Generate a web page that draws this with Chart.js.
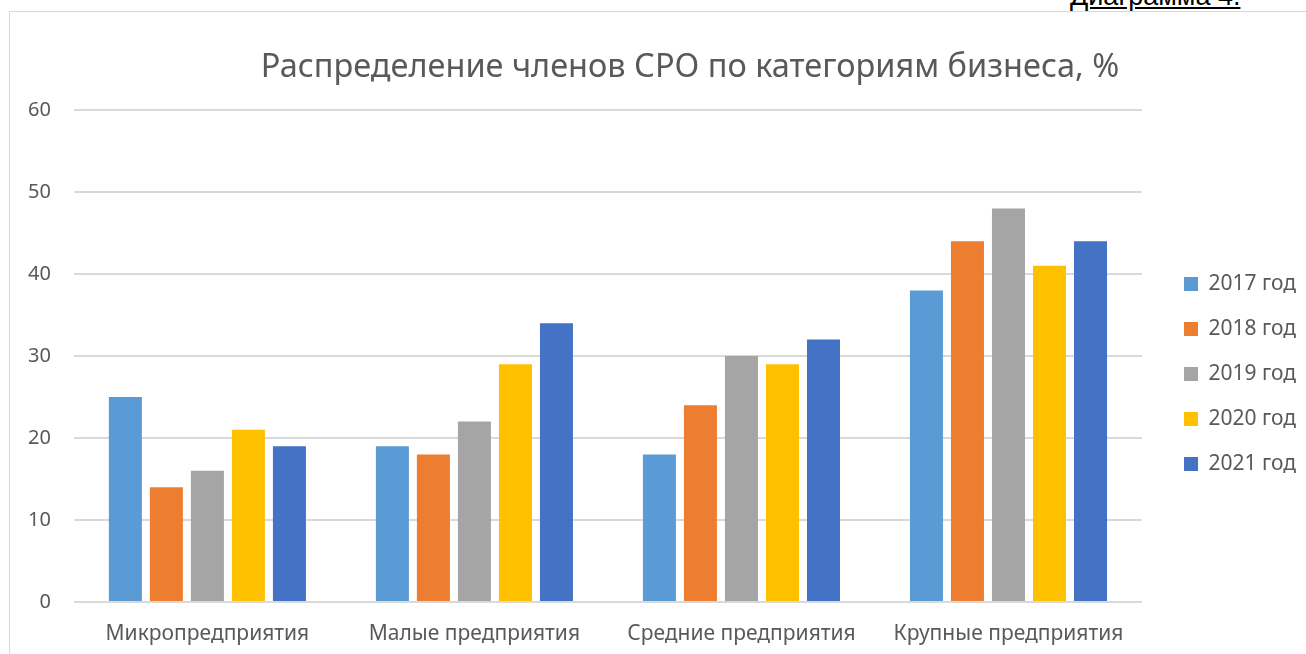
<!DOCTYPE html>
<html>
<head>
<meta charset="utf-8">
<script src="https://cdn.jsdelivr.net/npm/chart.js@4"></script>
<style>
  html, body { margin: 0; padding: 0; width: 1306px; height: 654px; overflow: hidden; background: #fff; }
  #frame { position: absolute; left: 9px; top: 11px; width: 1400px; height: 700px; border: 1px solid #d9d9d9; box-sizing: border-box; }
  #wrap { position: absolute; left: 0; top: 0; width: 1380px; height: 654px; }
  #caption { position: absolute; left: 1070px; top: -17px; font-family: "Liberation Sans", Arial, sans-serif; font-size: 27px; line-height: 27px; color: #000; text-decoration: underline; white-space: nowrap; }
</style>
</head>
<body>
<div id="frame"></div>
<div id="caption">Диаграмма 4.</div>
<div id="wrap"><canvas id="c" width="1380" height="654"></canvas></div>
<script>
const categories = ["Микропредприятия", "Малые предприятия", "Средние предприятия", "Крупные предприятия"];
const seriesNames = ["2017 год", "2018 год", "2019 год", "2020 год", "2021 год"];
const v2017 = [25, 19, 18, 38];
const v2018 = [14, 18, 24, 44];
const v2019 = [16, 22, 30, 48];
const v2020 = [21, 29, 29, 41];
const v2021 = [19, 34, 32, 44];
const yTicks = [0, 10, 20, 30, 40, 50, 60];
const colors = ["#5B9BD5", "#ED7D31", "#A5A5A5", "#FFC000", "#4472C4"];
const titleText = "Распределение членов СРО по категориям бизнеса, %";

const values = [v2017, v2018, v2019, v2020, v2021];
const textColor = "#595959";
const fontFamily = "'Noto Sans', 'Open Sans', sans-serif";

// Title in the original is centred over the whole (wider) chart frame
const titleShift = {
  id: "titleShift",
  afterLayout(chart) {
    if (chart.titleBlock) { chart.titleBlock.left += 69; }
  }
};

new Chart(document.getElementById("c"), {
  type: "bar",
  data: {
    labels: categories,
    datasets: seriesNames.map((name, i) => ({
      label: name,
      data: values[i],
      backgroundColor: colors[i],
      borderWidth: 0,
      categoryPercentage: 0.768,
      barPercentage: 0.805
    }))
  },
  options: {
    responsive: false,
    animation: false,
    layout: { padding: { left: 5, right: 74, top: 0, bottom: 7 } },
    plugins: {
      title: {
        display: true,
        text: titleText,
        color: textColor,
        font: { family: fontFamily, size: 32.5, weight: "normal" },
        padding: { top: 48, bottom: 23 }
      },
      legend: {
        position: "right",
        fullSize: false,
        title: { display: true, text: " ", font: { size: 10 }, padding: { top: 0, bottom: 24 } },
        labels: {
          color: textColor,
          font: { family: fontFamily, size: 21 },
          boxWidth: 14,
          boxHeight: 14,
          padding: 24
        }
      },
      tooltip: { enabled: false }
    },
    scales: {
      x: {
        grid: { display: false, drawTicks: false },
        border: { display: false },
        ticks: { color: textColor, font: { family: fontFamily, size: 21 }, padding: 19, maxRotation: 0 },
        afterFit: s => { s.paddingLeft = 0; s.paddingRight = 0; s.height = 45; }
      },
      y: {
        min: 0,
        max: 60,
        afterBuildTicks: s => { s.ticks = yTicks.map(v => ({ value: v })); },
        grid: { color: "#d9d9d9", lineWidth: 2, drawTicks: false },
        border: { display: false },
        ticks: { color: textColor, font: { family: fontFamily, size: 20 }, padding: 23 },
        afterFit: s => { s.paddingTop = 0; s.paddingBottom = 0; }
      },
      y2: {
        position: "right",
        display: true,
        grid: { display: false, drawTicks: false },
        border: { display: false },
        ticks: { display: false },
        afterFit: s => { s.width = 18; s.paddingTop = 0; s.paddingBottom = 0; }
      }
    }
  },
  plugins: [titleShift]
});
</script>
</body>
</html>
